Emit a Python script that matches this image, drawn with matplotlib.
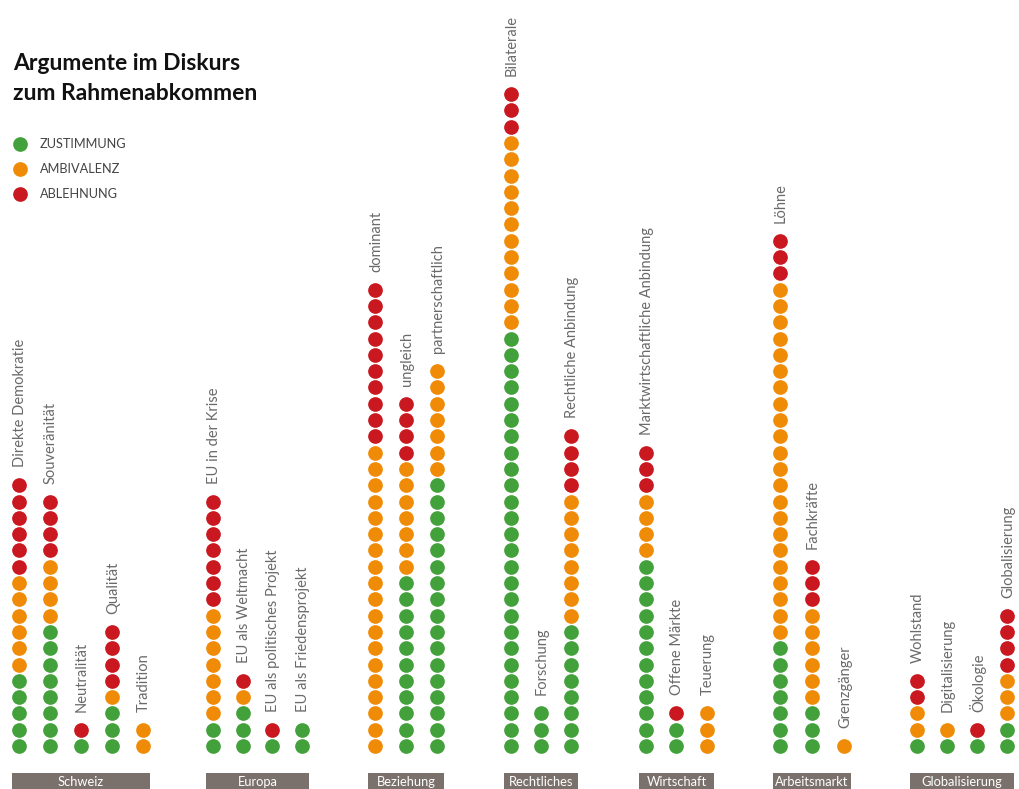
import matplotlib
import matplotlib.pyplot as plt
from matplotlib.patches import Rectangle
matplotlib.use('Agg')

# data: one column of dots per argument, stacked green / orange / red
group_names = ["Schweiz", "Europa", "Beziehung", "Rechtliches", "Wirtschaft", "Arbeitsmarkt", "Globalisierung"]
group_args = [
    ["Direkte Demokratie", "Souveränität", "Neutralität", "Qualität", "Tradition"],
    ["EU in der Krise", "EU als Weltmacht", "EU als politisches Projekt", "EU als Friedensprojekt"],
    ["dominant", "ungleich", "partnerschaftlich"],
    ["Bilaterale", "Forschung", "Rechtliche Anbindung"],
    ["Marktwirtschaftliche Anbindung", "Offene Märkte", "Teuerung"],
    ["Löhne", "Fachkräfte", "Grenzgänger"],
    ["Wohlstand", "Digitalisierung", "Ökologie", "Globalisierung"],
]
zustimmung = [5, 8, 1, 3, 0,   2, 3, 1, 2,   0, 11, 17,   26, 3, 8,   12, 2, 0,   7, 3, 0,   1, 1, 1, 2]
ambivalenz = [6, 4, 0, 1, 2,   7, 1, 0, 0,   19, 7, 7,    12, 0, 8,   4, 0, 3,    22, 6, 1,  2, 1, 0, 3]
ablehnung  = [6, 4, 1, 4, 0,   7, 1, 1, 0,   10, 4, 0,    3, 0, 4,    3, 1, 0,    3, 3, 0,   2, 0, 1, 4]

legend_labels = ["ZUSTIMMUNG", "AMBIVALENZ", "ABLEHNUNG"]
colors = ["#43a13b", "#ef8b07", "#c9181f"]

# layout (pixels of the 1019x789 canvas)
W, H = 1019, 789
group_x = [19, 213, 375, 511, 646, 780, 917]
group_step = [31, 29.7, 31, 30, 30.5, 32, 30]
base_y = 746
dot_step = 16.3

plt.rcParams['font.family'] = ['Lato', 'DejaVu Sans']

fig = plt.figure(figsize=(W / 100, H / 100), dpi=100)
ax = fig.add_axes([0, 0, 1, 1])
ax.set_xlim(0, W)
# y in dot units: dot k sits at pixel row base_y - k * dot_step
ax.set_ylim((base_y - H) / dot_step, base_y / dot_step)
ax.axis("off")

i = 0
for g, args in enumerate(group_args):
    xs = [group_x[g] + j * group_step[g] for j in range(len(args))]
    for j, name in enumerate(args):
        x = xs[j]
        counts = [zustimmung[i], ambivalenz[i], ablehnung[i]]
        k = 0
        for c, n in zip(colors, counts):
            ax.scatter([x] * n, list(range(k, k + n)), s=112, color=c, linewidths=0, zorder=3)
            k += n
        ax.text(x + 1, k - 1 + 1.1, name, rotation=90, ha="center", va="bottom",
                fontsize=10.5, color="#6a6a6a")
        i += 1
    # group box at the bottom
    y0 = (base_y - 792) / dot_step
    y1 = (base_y - 773) / dot_step
    ax.add_patch(Rectangle((xs[0] - 7, y0), xs[-1] - xs[0] + 14, y1 - y0,
                           facecolor="#7b716c", edgecolor="none", zorder=2))
    ax.text((xs[0] + xs[-1]) / 2, (base_y - 782) / dot_step, group_names[g],
            ha="center", va="center", fontsize=9.3, color="white", zorder=4)

# title and legend
fig.text(13 / W, 1 - 53 / H, "Argumente im Diskurs\nzum Rahmenabkommen", ha="left", va="top",
         fontsize=16.5, fontweight="bold", color="#111111", linespacing=1.5)
for n, (lab, c) in enumerate(zip(legend_labels, colors)):
    yy = 144 + n * 25
    ax.scatter([20], [(base_y - yy) / dot_step], s=112, color=c, linewidths=0)
    fig.text(40 / W, 1 - yy / H, lab, ha="left", va="center", fontsize=9.2, color="#444444")

fig.savefig("out.png", dpi=100)
